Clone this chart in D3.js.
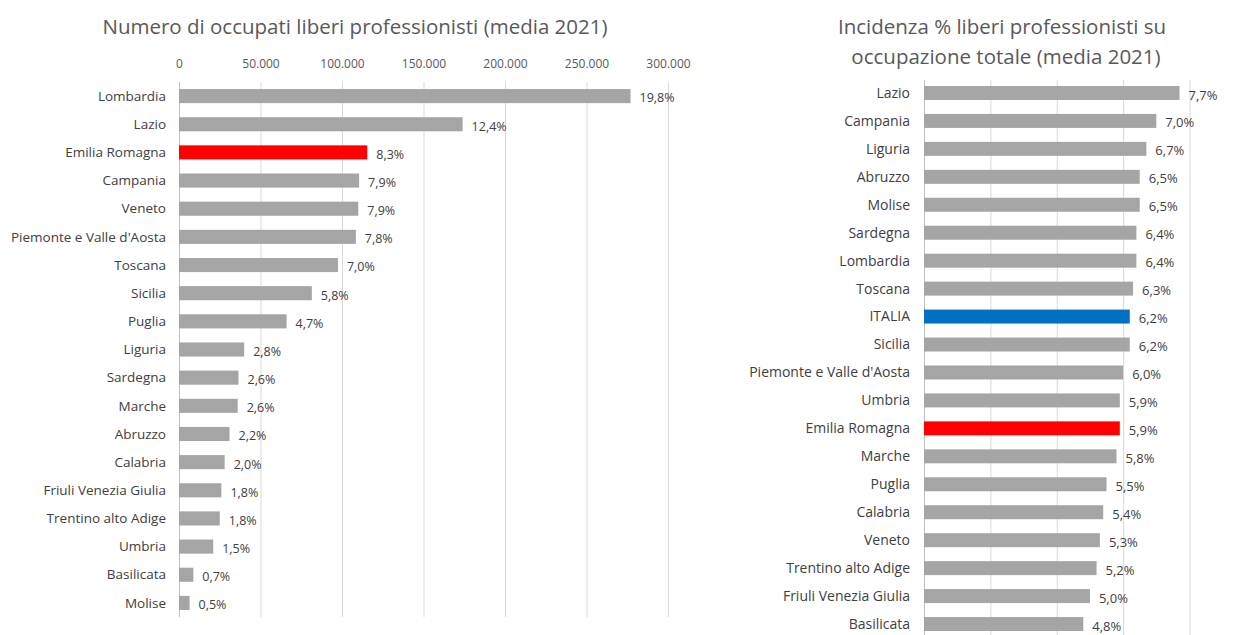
<!DOCTYPE html>
<html>
<head>
<meta charset="utf-8">
<script src="https://cdn.jsdelivr.net/npm/d3@7"></script>
<style>
  body { margin: 0; background: #fff; }
  text { font-family: "Open Sans", "Liberation Sans", sans-serif; }
</style>
</head>
<body>
<div class="visual"></div>
<script>
// left chart data
const regioniN = ["Lombardia", "Lazio", "Emilia Romagna", "Campania", "Veneto", "Piemonte e Valle d'Aosta", "Toscana", "Sicilia", "Puglia", "Liguria", "Sardegna", "Marche", "Abruzzo", "Calabria", "Friuli Venezia Giulia", "Trentino alto Adige", "Umbria", "Basilicata", "Molise"];
const occupati = [277000, 174000, 115500, 110500, 110000, 108500, 97500, 81500, 66000, 40000, 36500, 36000, 31000, 28000, 26000, 25000, 21000, 8800, 6500];
const quota = [19.8, 12.4, 8.3, 7.9, 7.9, 7.8, 7.0, 5.8, 4.7, 2.8, 2.6, 2.6, 2.2, 2.0, 1.8, 1.8, 1.5, 0.7, 0.5];
const ticksN = [0, 50000, 100000, 150000, 200000, 250000, 300000];

// right chart data
const regioniP = ["Lazio", "Campania", "Liguria", "Abruzzo", "Molise", "Sardegna", "Lombardia", "Toscana", "ITALIA", "Sicilia", "Piemonte e Valle d'Aosta", "Umbria", "Emilia Romagna", "Marche", "Puglia", "Calabria", "Veneto", "Trentino alto Adige", "Friuli Venezia Giulia", "Basilicata"];
const incidenza = [7.7, 7.0, 6.7, 6.5, 6.5, 6.4, 6.4, 6.3, 6.2, 6.2, 6.0, 5.9, 5.9, 5.8, 5.5, 5.4, 5.3, 5.2, 5.0, 4.8];
const ticksP = [0, 2, 4, 6, 8];

const width = 1247, height = 635;
const grey = "#a5a5a5", red = "#ff0000", blue = "#0070c0", grid = "#d9d9d9";

const it = d3.formatLocale({decimal: ",", thousands: ".", grouping: [3], currency: ["€", ""]});
const fmtN = it.format(",");
const fmtP = it.format(".1f");

const svg = d3.select(".visual")
  .append("svg")
  .attr("width", width)
  .attr("height", height);

function barColor(name) {
  if (name == "Emilia Romagna") return red;
  if (name == "ITALIA") return blue;
  return grey;
}

//---- left chart
const xL = d3.scaleLinear().domain([0, 300000]).range([179, 668]);
const yL = d3.scaleBand().domain(regioniN).range([82, 617]).paddingInner(0.5).paddingOuter(0.25);

svg.append("text")
  .attr("x", 355).attr("y", 34)
  .attr("text-anchor", "middle")
  .attr("font-size", 20.5)
  .attr("fill", "#595959")
  .text("Numero di occupati liberi professionisti (media 2021)");

const axL = svg.append("g")
  .attr("transform", "translate(0,82)")
  .call(d3.axisTop(xL).tickValues(ticksN).tickFormat(d => fmtN(d)).tickSize(-(617 - 82)).tickPadding(14));
axL.select(".domain").remove();
axL.selectAll(".tick line").attr("stroke", grid);
axL.selectAll(".tick text").attr("fill", "#595959").attr("font-size", 12);
axL.select(".tick line").attr("stroke", "#bfbfbf");

svg.selectAll(".barL")
  .data(regioniN)
  .enter()
  .append("rect")
  .attr("class", "barL")
  .attr("x", xL(0))
  .attr("y", d => yL(d))
  .attr("width", (d, i) => xL(occupati[i]) - xL(0))
  .attr("height", yL.bandwidth())
  .attr("fill", d => barColor(d));

svg.selectAll(".nameL")
  .data(regioniN)
  .enter()
  .append("text")
  .attr("class", "nameL")
  .attr("x", 166)
  .attr("y", d => yL(d) + yL.bandwidth() / 2)
  .attr("dy", "0.35em")
  .attr("text-anchor", "end")
  .attr("font-size", 13.5)
  .attr("fill", "#404040")
  .text(d => d);

svg.selectAll(".valL")
  .data(regioniN)
  .enter()
  .append("text")
  .attr("class", "valL")
  .attr("x", (d, i) => xL(occupati[i]) + 9)
  .attr("y", d => yL(d) + yL.bandwidth() / 2 + 2)
  .attr("dy", "0.35em")
  .attr("font-size", 12.5)
  .attr("fill", "#404040")
  .text((d, i) => fmtP(quota[i]) + "%");

//---- right chart
const xR = d3.scaleLinear().domain([0, 8]).range([924, 1189.5]);
const yR = d3.scaleBand().domain(regioniP).range([79, 638]).paddingInner(0.5).paddingOuter(0.25);

const title = svg.append("text")
  .attr("text-anchor", "middle")
  .attr("font-size", 20.5)
  .attr("fill", "#595959");
title.append("tspan").attr("x", 1002).attr("y", 34).text("Incidenza % liberi professionisti su");
title.append("tspan").attr("x", 1006).attr("y", 64).text("occupazione totale (media 2021)");

const axR = svg.append("g")
  .attr("transform", "translate(0,80)")
  .call(d3.axisTop(xR).tickValues(ticksP).tickFormat("").tickSize(-(height - 80)));
axR.select(".domain").remove();
axR.selectAll(".tick line").attr("stroke", grid);
axR.select(".tick line").attr("stroke", "#bfbfbf");

svg.selectAll(".barR")
  .data(regioniP)
  .enter()
  .append("rect")
  .attr("class", "barR")
  .attr("x", xR(0))
  .attr("y", d => yR(d))
  .attr("width", (d, i) => xR(incidenza[i]) - xR(0))
  .attr("height", yR.bandwidth())
  .attr("fill", d => barColor(d));

svg.selectAll(".nameR")
  .data(regioniP)
  .enter()
  .append("text")
  .attr("class", "nameR")
  .attr("x", 910)
  .attr("y", d => yR(d) + yR.bandwidth() / 2)
  .attr("dy", "0.35em")
  .attr("text-anchor", "end")
  .attr("font-size", 14)
  .attr("fill", "#404040")
  .text(d => d);

svg.selectAll(".valR")
  .data(regioniP)
  .enter()
  .append("text")
  .attr("class", "valR")
  .attr("x", (d, i) => xR(incidenza[i]) + 9)
  .attr("y", d => yR(d) + yR.bandwidth() / 2 + 2)
  .attr("dy", "0.35em")
  .attr("font-size", 13)
  .attr("fill", "#404040")
  .text((d, i) => fmtP(incidenza[i]) + "%");
</script>
</body>
</html>
